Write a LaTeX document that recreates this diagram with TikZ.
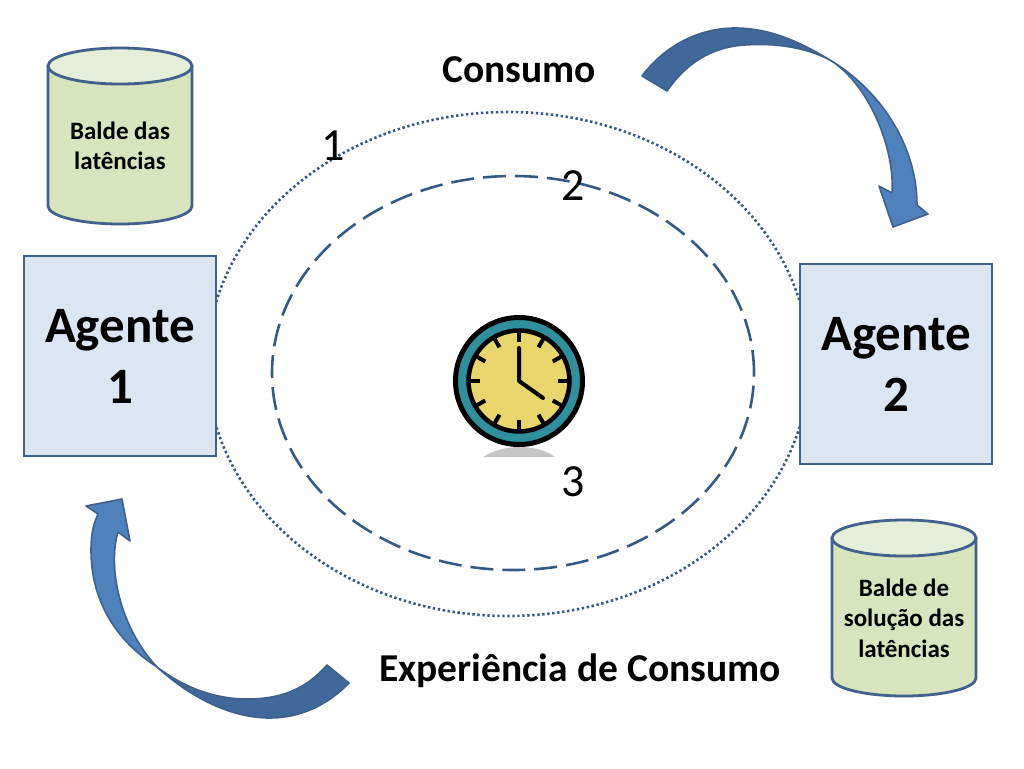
\documentclass[tikz,border=0pt]{standalone}
\usepackage{fontspec}
\setmainfont{Carlito}
\usetikzlibrary{shapes.geometric}
\definecolor{edgeblue}{HTML}{3F618C}
\definecolor{ringblue}{HTML}{355A85}
\definecolor{boxfill}{HTML}{DCE6F2}
\definecolor{cylbody}{HTML}{D7E4BD}
\definecolor{cyltop}{HTML}{E6EDD8}
\definecolor{arrowdark}{HTML}{41689B}
\definecolor{arrowlight}{HTML}{4F81BD}
\definecolor{clockteal}{HTML}{2F8F9D}
\definecolor{clockface}{HTML}{E8D56B}
\tikzset{
  agentbox/.style={draw=edgeblue,line width=2.2pt,fill=boxfill,minimum width=192pt,minimum height=200pt,align=center,inner sep=0pt,font=\fontsize{51}{61}\selectfont\bfseries},
  bucketbody/.style={draw=edgeblue,line width=2.8pt,fill=cylbody,line join=round},
  buckettop/.style={shape=ellipse,draw=edgeblue,line width=2.8pt,fill=cyltop,minimum width=144pt,minimum height=36pt,inner sep=0pt,outer sep=0pt},
  buckettext/.style={align=center,inner sep=0pt,font=\fontsize{25}{30.5}\selectfont\bfseries},
  heading/.style={inner sep=0pt,font=\fontsize{39.5}{44}\selectfont\bfseries},
  numlabel/.style={inner sep=0pt,font=\fontsize{46}{50}\selectfont},
  dottedring/.style={draw=ringblue,line width=2.6pt,dash pattern=on 2.4pt off 2.6pt},
  dashedring/.style={draw=ringblue,line width=2.6pt,dash pattern=on 23pt off 9pt},
  arrowedge/.style={draw=edgeblue,line width=1.6pt,line join=round},
  tick/.style={line width=4pt,draw=black,line cap=butt}
}
\begin{document}
\begin{tikzpicture}[x=1pt,y=-1pt]
\useasboundingbox (0,0) rectangle (1024,768);
% rings
\node[dottedring,ellipse,minimum width=602pt,minimum height=504pt,inner sep=0pt,outer sep=0pt] (outerring) at (508,364) {};
\node[dashedring,ellipse,minimum width=482pt,minimum height=394pt,inner sep=0pt,outer sep=0pt] (innerring) at (513,373) {};
% agents
\node[agentbox] (agent1) at (120,356) {Agente\\1};
\node[agentbox] (agent2) at (896,364) {Agente\\2};
% buckets
\draw[bucketbody] (48,66) -- (48,206) .. controls (48,216) and (80,224) .. (120,224) .. controls (160,224) and (192,216) .. (192,206) -- (192,66) -- cycle;
\node[buckettop] (bucket1top) at (120,66) {};
\node[buckettext] (bucket1text) at (120,146) {Balde das\\latências};
\draw[bucketbody] (832,538) -- (832,678) .. controls (832,688) and (864,696) .. (904,696) .. controls (944,696) and (976,688) .. (976,678) -- (976,538) -- cycle;
\node[buckettop] (bucket2top) at (904,538) {};
\node[buckettext] (bucket2text) at (904,618) {Balde de\\solução das\\latências};
% headings and numbers
\node[heading] (consumo) at (519,70) {Consumo};
\node[heading] (experiencia) at (580,671) {Experiência de Consumo};
\node[numlabel] (n1) at (333,146) {1};
\node[numlabel] (n2) at (573,186) {2};
\node[numlabel] (n3) at (573,482) {3};
% top curved arrow
\fill[arrowlight,arrowedge] (830,60) .. controls (880,90) and (917,145) .. (917,205)
  -- (928,214) -- (893,227) -- (879,186) -- (892,193)
  .. controls (895,150) and (870,85) .. (830,60) -- cycle;
\fill[arrowdark,arrowedge] (642,76) .. controls (665,45) and (700,28) .. (735,28)
  .. controls (770,28) and (800,42) .. (830,60)
  .. controls (805,47) and (775,43) .. (745,45)
  .. controls (710,47) and (685,65) .. (667,91) -- cycle;
% bottom curved arrow
\fill[arrowlight,arrowedge] (157,667) .. controls (115,640) and (91,600) .. (91,550)
  .. controls (91,535) and (93,525) .. (98,514) -- (86,506) -- (122,499) -- (130,541) -- (118,532)
  .. controls (108,565) and (118,625) .. (157,667) -- cycle;
\fill[arrowdark,arrowedge] (349,683) .. controls (328,705) and (300,718) .. (270,718)
  .. controls (230,718) and (190,697) .. (157,667)
  .. controls (185,688) and (215,699) .. (247,699)
  .. controls (280,699) and (305,690) .. (327,665) -- cycle;
% clock
\fill[gray!45] (483,457) .. controls (495,449) and (510,447) .. (519,447) .. controls (530,447) and (545,449) .. (555,457) -- cycle;
\node[circle,draw=black,line width=5pt,fill=clockteal,minimum size=127pt,inner sep=0pt,outer sep=0pt] (clockrim) at (519,381) {};
\node[circle,draw=black,line width=4.5pt,fill=clockface,minimum size=101pt,inner sep=0pt,outer sep=0pt] (clockface) at (519,381) {};
\foreach \a in {0,30,...,330}{
  \draw[tick] ([shift={(\a:50)}]clockface.center) -- ([shift={(\a:39)}]clockface.center);
}
\draw[line width=4pt,line cap=round,line join=round] (clockface.center) ++(0,-33) -- (clockface.center) -- ++(24,17);
\end{tikzpicture}
\end{document}
